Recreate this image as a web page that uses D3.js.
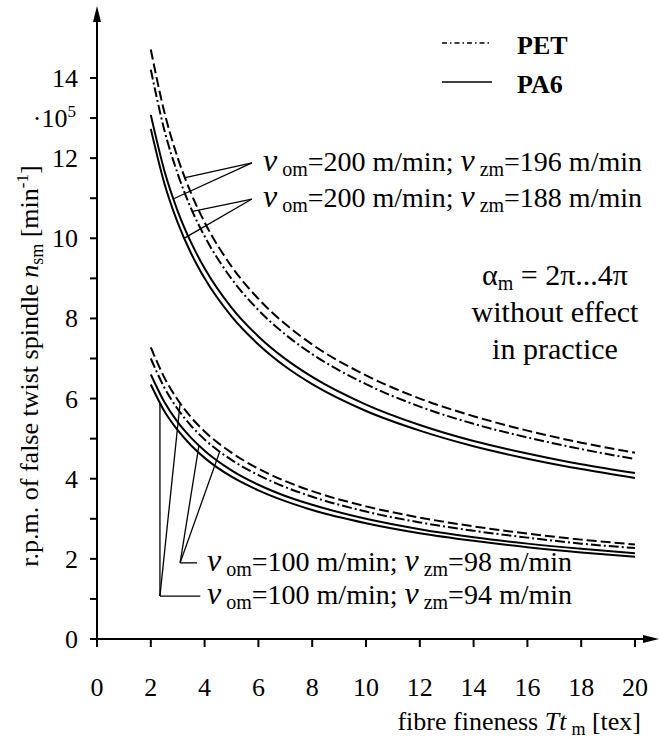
<!DOCTYPE html>
<html>
<head>
<meta charset="utf-8">
<script src="https://cdn.jsdelivr.net/npm/d3@7/dist/d3.min.js"></script>
<style>
  html, body { margin: 0; padding: 0; background: #fff; }
  svg { display: block; }
</style>
</head>
<body>
<div id="chart"></div>
<script>
// Fibre fineness Tt_m [tex] at which the spindle speed was evaluated
const fineness = [2, 2.5, 3, 3.5, 4, 5, 6, 7, 8, 10, 12, 14, 16, 18, 20];

// Spindle speed n_sm [10^5 min^-1], v_om = 200 m/min
const pet200a = [14.71, 13.16, 12.01, 11.12, 10.40, 9.30, 8.49, 7.86, 7.35, 6.58, 6.00, 5.56, 5.20, 4.90, 4.65];
const pet200b = [14.21, 12.71, 11.61, 10.74, 10.05, 8.99, 8.21, 7.60, 7.11, 6.36, 5.80, 5.37, 5.03, 4.74, 4.49];
const pa200a  = [13.08, 11.70, 10.68, 9.89, 9.25, 8.27, 7.55, 6.99, 6.54, 5.85, 5.34, 4.94, 4.63, 4.36, 4.14];
const pa200b  = [12.73, 11.38, 10.39, 9.62, 9.00, 8.05, 7.35, 6.80, 6.36, 5.69, 5.20, 4.81, 4.50, 4.24, 4.02];

// Spindle speed n_sm [10^5 min^-1], v_om = 100 m/min
const pet100a = [7.28, 6.53, 5.97, 5.53, 5.18, 4.65, 4.25, 3.94, 3.69, 3.31, 3.03, 2.81, 2.63, 2.48, 2.36];
const pet100b = [7.00, 6.28, 5.74, 5.32, 4.98, 4.47, 4.09, 3.79, 3.55, 3.18, 2.91, 2.70, 2.53, 2.38, 2.27];
const pa100a  = [6.60, 5.92, 5.41, 5.02, 4.70, 4.21, 3.85, 3.57, 3.35, 3.00, 2.74, 2.54, 2.38, 2.25, 2.14];
const pa100b  = [6.35, 5.69, 5.21, 4.83, 4.52, 4.05, 3.71, 3.44, 3.22, 2.89, 2.64, 2.45, 2.29, 2.16, 2.05];

const xTicks = [0, 2, 4, 6, 8, 10, 12, 14, 16, 18, 20];
const yTickLabels = [0, 2, 4, 6, 8, 10, 12, 14];
const yMinorTicks = [0, 1, 2, 3, 4, 5, 6, 7, 8, 9, 10, 11, 12, 13, 14];

const legendItems = ["PET", "PA6"];

const W = 659, H = 741;
const FONT = "'Liberation Serif', 'Times New Roman', Times, serif";
const svg = d3.select("#chart").append("svg")
  .attr("width", W).attr("height", H)
  .attr("font-family", FONT)
  .style("font-family", FONT);

const x = d3.scaleLinear().domain([0, 20]).range([97, 635]);
const y = d3.scaleLinear().domain([0, 14]).range([639, 78]);

const series = [
  { name: "pet200a", values: pet200a, kind: "petA" },
  { name: "pet200b", values: pet200b, kind: "petB" },
  { name: "pa200a",  values: pa200a,  kind: "pa" },
  { name: "pa200b",  values: pa200b,  kind: "pa" },
  { name: "pet100a", values: pet100a, kind: "petA" },
  { name: "pet100b", values: pet100b, kind: "petB" },
  { name: "pa100a",  values: pa100a,  kind: "pa" },
  { name: "pa100b",  values: pa100b,  kind: "pa" }
];
const byName = Object.fromEntries(series.map(s => [s.name, s]));
const dashFor = { petA: "10,4", petB: "10,3,2,3", pa: null };

function addText(parent) {
  return parent.append("text").attr("font-family", FONT).attr("fill", "#000");
}

// ---- axes ----
const axes = svg.append("g").attr("stroke", "#000").attr("stroke-width", 2);
axes.append("line").attr("x1", x(0)).attr("x2", 648).attr("y1", y(0)).attr("y2", y(0));
axes.append("line").attr("x1", x(0)).attr("x2", x(0)).attr("y1", y(0) + 1).attr("y2", 20);
// arrow heads
svg.append("path")
  .attr("d", `M${x(0)},6 L${x(0) - 4},22 L${x(0) + 4},22 Z`).attr("fill", "#000");
svg.append("path")
  .attr("d", `M659,${y(0)} L643,${y(0) - 4} L643,${y(0) + 4} Z`).attr("fill", "#000");

// y ticks (every unit) and labels (even values)
svg.append("g").selectAll("line").data(yMinorTicks).join("line")
  .attr("x1", x(0) - 7).attr("x2", x(0))
  .attr("y1", d => y(d)).attr("y2", d => y(d))
  .attr("stroke", "#000").attr("stroke-width", 2);
const yLab = svg.append("g");
yTickLabels.forEach(d => {
  addText(yLab).attr("x", 78).attr("y", y(d) + 9)
    .attr("text-anchor", "end").attr("font-size", 26).text(d);
});
// unit factor placed at 13
const unit = addText(svg).attr("x", 76).attr("y", y(13) + 9)
  .attr("text-anchor", "end").attr("font-size", 26);
unit.append("tspan").text("\u00b710");
unit.append("tspan").attr("font-size", 17).attr("dy", -10).text("5");

// x ticks and labels
svg.append("g").selectAll("line").data(xTicks).join("line")
  .attr("x1", d => x(d)).attr("x2", d => x(d))
  .attr("y1", y(0)).attr("y2", y(0) + 8)
  .attr("stroke", "#000").attr("stroke-width", 2);
const xLab = svg.append("g");
xTicks.forEach(d => {
  addText(xLab).attr("x", x(d)).attr("y", 696)
    .attr("text-anchor", "middle").attr("font-size", 26).text(d);
});

// axis titles
const xt = addText(svg).attr("x", 641).attr("y", 730)
  .attr("text-anchor", "end").attr("font-size", 26);
xt.append("tspan").text("fibre fineness ");
xt.append("tspan").attr("font-style", "italic").text("Tt");
xt.append("tspan").attr("font-size", 18).attr("dx", 5).attr("dy", 5).text("m");
xt.append("tspan").attr("dy", -5).text(" [tex]");

const yt = addText(svg)
  .attr("transform", "translate(38,366) rotate(-90)")
  .attr("text-anchor", "middle").attr("font-size", 26);
yt.append("tspan").text("r.p.m. of false twist spindle ");
yt.append("tspan").attr("font-style", "italic").text("n");
yt.append("tspan").attr("font-size", 18).attr("dy", 5).text("sm");
yt.append("tspan").attr("dy", -5).text(" [min");
yt.append("tspan").attr("font-size", 17).attr("dy", -10).text("-1");
yt.append("tspan").attr("dy", 10).text("]");

// ---- curves ----
const line = d3.line()
  .x((d, i) => x(fineness[i]))
  .y(d => y(d))
  .curve(d3.curveMonotoneX);

svg.append("g").selectAll("path").data(series).join("path")
  .attr("d", s => line(s.values))
  .attr("fill", "none")
  .attr("stroke", "#000")
  .attr("stroke-width", 2)
  .attr("stroke-dasharray", s => dashFor[s.kind]);

// value of a series at an arbitrary fineness (linear between read points)
function valueAt(s, tx) {
  const i = Math.max(1, d3.bisectLeft(fineness, tx));
  const x0 = fineness[i - 1], x1 = fineness[i];
  const t = (tx - x0) / (x1 - x0);
  return s.values[i - 1] + t * (s.values[i] - s.values[i - 1]);
}

// ---- annotations ----
const labels = [
  { vom: "200", vzm: "196", ax: 5.76, ay: 11.88, tx: 6.17, hx: null },
  { vom: "200", vzm: "188", ax: 5.76, ay: 10.98, tx: 6.17, hx: null },
  { vom: "100", vzm: "98",  ax: 3.09, ay: 1.90,  tx: 4.09, hx: 3.72 },
  { vom: "100", vzm: "94",  ax: 2.34, ay: 1.07,  tx: 4.09, hx: 3.84 }
];
const anchors = [
  { label: 0, series: "pet200a", at: 3.28 },
  { label: 0, series: "pa200a",  at: 2.85 },
  { label: 1, series: "pet200b", at: 3.55 },
  { label: 1, series: "pa200b",  at: 3.25 },
  { label: 2, series: "pa100a",  at: 3.79 },
  { label: 2, series: "pet100b", at: 4.57 },
  { label: 3, series: "pa100b",  at: 2.34 },
  { label: 3, series: "pet100a", at: 3.09 }
];

const lead = svg.append("g").attr("stroke", "#000").attr("stroke-width", 1.3).attr("fill", "none");
anchors.forEach(a => {
  const L = labels[a.label];
  const s = byName[a.series];
  lead.append("line")
    .attr("x1", x(L.ax)).attr("y1", y(L.ay))
    .attr("x2", x(a.at)).attr("y2", y(valueAt(s, a.at)));
});
labels.forEach(L => {
  if (L.hx !== null) {
    lead.append("line")
      .attr("x1", x(L.ax)).attr("y1", y(L.ay))
      .attr("x2", x(L.hx)).attr("y2", y(L.ay));
  }
  const t = addText(svg).attr("x", x(L.tx)).attr("y", y(L.ay) + 8).attr("font-size", 28);
  t.append("tspan").attr("font-style", "italic").attr("font-size", 32).text("v");
  t.append("tspan").attr("font-size", 20).attr("dx", 5).attr("dy", 5).text("om");
  t.append("tspan").attr("dy", -5).text("=" + L.vom + " m/min; ");
  t.append("tspan").attr("font-style", "italic").attr("font-size", 32).text("v");
  t.append("tspan").attr("font-size", 20).attr("dx", 5).attr("dy", 5).text("zm");
  t.append("tspan").attr("dy", -5).text("=" + L.vzm + " m/min");
});

// twist factor note
const note = svg.append("g");
const n1 = addText(note).attr("x", 555).attr("y", 285).attr("font-size", 30).attr("text-anchor", "middle");
n1.append("tspan").text("\u03b1");
n1.append("tspan").attr("font-size", 20).attr("dy", 5).text("m");
n1.append("tspan").attr("dy", -5).text(" = 2\u03c0...4\u03c0");
addText(note).attr("x", 555).attr("y", 322).attr("font-size", 30).attr("text-anchor", "middle").text("without effect");
addText(note).attr("x", 555).attr("y", 359).attr("font-size", 30).attr("text-anchor", "middle").text("in practice");

// ---- legend ----
const legend = svg.append("g");
legendItems.forEach((name, i) => {
  const ly = 43 + i * 39;
  legend.append("line")
    .attr("x1", 442).attr("x2", 492).attr("y1", ly).attr("y2", ly)
    .attr("stroke", "#000")
    .attr("stroke-width", i === 0 ? 1.3 : 1.6)
    .attr("stroke-dasharray", i === 0 ? "5,3,1.5,3" : null);
  addText(legend)
    .attr("x", 517).attr("y", ly + 11)
    .attr("font-size", 26).attr("font-weight", "bold")
    .text(name);
});
</script>
</body>
</html>
